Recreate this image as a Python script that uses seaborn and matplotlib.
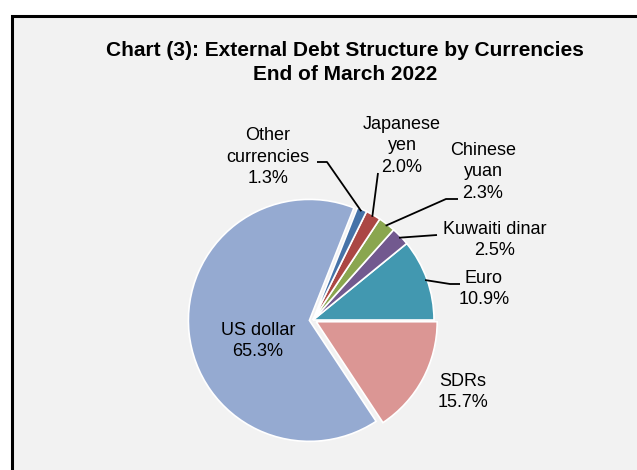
import numpy as np
import matplotlib
matplotlib.use("Agg")
import matplotlib.pyplot as plt
from matplotlib.patches import Rectangle
import seaborn as sns

# External debt by currency, end of March 2022 (percent)
currencies = ["Euro", "Kuwaiti dinar", "Chinese\nyuan", "Japanese\nyen",
              "Other\ncurrencies", "US dollar", "SDRs"]
shares = [10.9, 2.5, 2.3, 2.0, 1.3, 65.3, 15.7]
colors = ["#4298b0", "#72598f", "#8aa64f", "#ab4744", "#4673a8", "#95aad1", "#db9694"]
explode = [0, 0, 0, 0, 0, 0.03, 0.03]   # fraction of the radius

sns.set_theme(style="white")
plt.rcParams["font.family"] = ["Liberation Sans", "DejaVu Sans"]

W, H = 637, 470
fig = plt.figure(figsize=(W / 100, H / 100), dpi=100)
fig.patch.set_facecolor("white")

# chart-area frame
frame = Rectangle((12 / W, -0.1), 1.2, (H - 16) / H + 0.1,
                  transform=fig.transFigure, facecolor="#f2f2f2",
                  edgecolor="black", linewidth=2.2, zorder=-5)
fig.patches.append(frame)

ax = fig.add_axes([0, 0, 1, 1], zorder=2)
ax.patch.set_alpha(0)

cx, cy, R = 313, H - 320, 121
start = 0
# pie() offsets exploded wedges in data units, so scale by the radius
ax.pie(shares, colors=colors, explode=[e * R for e in explode], startangle=start,
       counterclock=True, center=(cx, cy), radius=R,
       wedgeprops=dict(edgecolor="white", linewidth=1.2))
ax.set_xlim(0, W)
ax.set_ylim(0, H)
ax.set_aspect("equal")
ax.axis("off")

total = sum(shares)
cum = np.cumsum([0] + shares[:-1])
mid = [np.deg2rad(start + 360 * (c + v / 2) / total) for c, v in zip(cum, shares)]


def edge(i, r=R):
    return cx + r * np.cos(mid[i]), cy + r * np.sin(mid[i])


def y(img_y):
    return H - img_y


txt = dict(fontsize=13, color="black", ha="center", va="center", linespacing=1.33)

# label text positions (x, y in image space) and leader elbows
labels = {
    0: ((484, 289), [(460, 284), (450, 284)]),
    1: ((495, 240), [(437, 235)]),
    2: ((483, 172), [(458, 199), (446, 199)]),
    3: ((402, 146), [(378, 173)]),
    4: ((268, 157), [(317, 162), (327, 162)]),
    5: ((258, 341), None),
    6: ((463, 392), None),
}

for i, ((tx, ty), path) in labels.items():
    ax.text(tx, y(ty), f"{currencies[i]}\n{shares[i]:.1f}%", **txt)
    if path:
        ex, ey = edge(i, R - 2)
        xs = [p[0] for p in path] + [ex]
        ys = [y(p[1]) for p in path] + [ey]
        ax.plot(xs, ys, color="black", linewidth=1.3, solid_capstyle="butt")

fig.text(345 / W, 1 - 50 / H, "Chart (3): External Debt Structure by Currencies",
         ha="center", va="center", fontsize=15, fontweight="bold", color="black")
fig.text(345 / W, 1 - 74 / H, "End of March 2022",
         ha="center", va="center", fontsize=15, fontweight="bold", color="black")

fig.savefig("out.png", dpi=100)
